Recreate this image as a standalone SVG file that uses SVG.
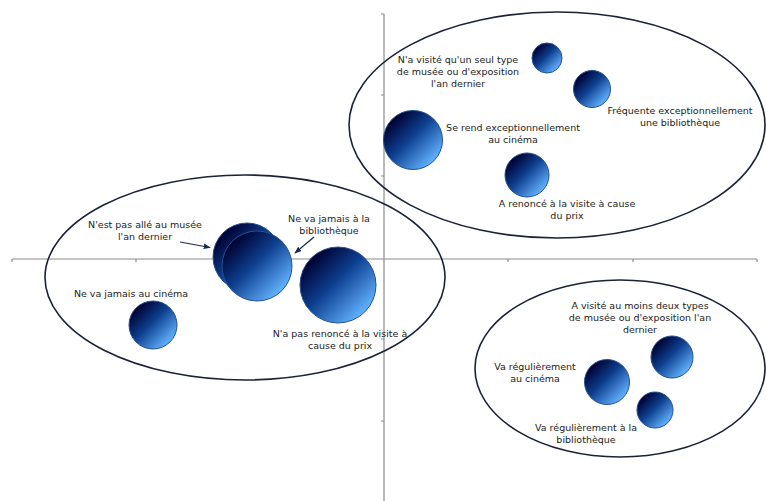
<svg xmlns="http://www.w3.org/2000/svg" width="766" height="501" viewBox="0 0 766 501">
<defs>
<linearGradient id="bub" x1="0.15" y1="0.15" x2="0.85" y2="0.85">
<stop offset="0" stop-color="#000030"/>
<stop offset="0.45" stop-color="#0d3f8f"/>
<stop offset="1" stop-color="#62b2ff"/>
</linearGradient>
<marker id="ah" viewBox="0 0 10 10" refX="9" refY="5" markerWidth="7" markerHeight="7" orient="auto" markerUnits="userSpaceOnUse">
<path d="M0,1 L10,5 L0,9 Z" fill="#1c2a4a"/>
</marker>
<style>
.ax{stroke:#8c8c8c;stroke-width:1.2;fill:none}
.grp{fill:none;stroke:#1a2238;stroke-width:1.6}
.b{fill:url(#bub);stroke:#23508f;stroke-width:1}
.t{font-family:"DejaVu Sans",Verdana,sans-serif;font-size:9.5px;fill:#222;text-anchor:middle}
.ar{stroke:#1c2a4a;stroke-width:1.2;fill:none;marker-end:url(#ah)}
</style>
</defs>
<rect width="766" height="501" fill="#fff"/>
<g id="axes">
<line class="ax" x1="12" y1="259" x2="757" y2="259"/>
<line class="ax" x1="384" y1="14" x2="384" y2="501"/>
<path class="ax" d="M12,259v3M136,259v3M260,259v3M508,259v3M633,259v3M757,259v3M381,14h3M381,95h3M381,176h3M381,339h3M381,421h3"/>
</g>
<g id="groups">
<ellipse class="grp" cx="557" cy="125" rx="208" ry="113"/>
<ellipse class="grp" cx="245" cy="277.5" rx="200" ry="102.5"/>
<ellipse class="grp" cx="620" cy="368.5" rx="145" ry="88.5"/>
</g>
<g id="n1"><circle class="b" cx="547" cy="58" r="15"/><text class="t" x="458" y="63">N'a visité qu'un seul type<tspan x="458" dy="12">de musée ou d'exposition</tspan><tspan x="458" dy="12">l'an dernier</tspan></text></g>
<g id="n2"><circle class="b" cx="592" cy="89" r="18.5"/><text class="t" x="680" y="114">Fréquente exceptionnellement<tspan x="680" dy="12">une bibliothèque</tspan></text></g>
<g id="n3"><circle class="b" cx="413" cy="140" r="29.5"/><text class="t" x="513" y="131">Se rend exceptionnellement<tspan x="513" dy="12">au cinéma</tspan></text></g>
<g id="n4"><circle class="b" cx="527" cy="175" r="22"/><text class="t" x="567" y="207">A renoncé à la visite à cause<tspan x="567" dy="12">du prix</tspan></text></g>
<g id="n5"><circle class="b" cx="153" cy="325" r="24"/><text class="t" x="131" y="297">Ne va jamais au cinéma</text></g>
<g id="n6"><circle class="b" cx="247" cy="257" r="34"/><text class="t" x="145" y="228">N'est pas allé au musée<tspan x="145" dy="12">l'an dernier</tspan></text></g>
<g id="n7"><circle class="b" cx="257" cy="266" r="35"/><text class="t" x="329" y="222">Ne va jamais à la<tspan x="329" dy="12">bibliothèque</tspan></text></g>
<g id="n8"><circle class="b" cx="338" cy="285" r="38"/><text class="t" x="340" y="337">N'a pas renoncé à la visite à<tspan x="340" dy="12">cause du prix</tspan></text></g>
<g id="n9"><circle class="b" cx="672" cy="357" r="21"/><text class="t" x="640" y="309">A visité au moins deux types<tspan x="640" dy="12">de musée ou d'exposition l'an</tspan><tspan x="640" dy="12">dernier</tspan></text></g>
<g id="n10"><circle class="b" cx="607" cy="382" r="22.5"/><text class="t" x="535" y="370">Va régulièrement<tspan x="535" dy="12">au cinéma</tspan></text></g>
<g id="n11"><circle class="b" cx="655" cy="410" r="18"/><text class="t" x="586" y="431">Va régulièrement à la<tspan x="586" dy="12">bibliothèque</tspan></text></g>
<g id="connectors">
<line class="ar" x1="180" y1="242" x2="210" y2="247.5"/>
<line class="ar" x1="314" y1="237" x2="295" y2="253"/>
</g>
</svg>
